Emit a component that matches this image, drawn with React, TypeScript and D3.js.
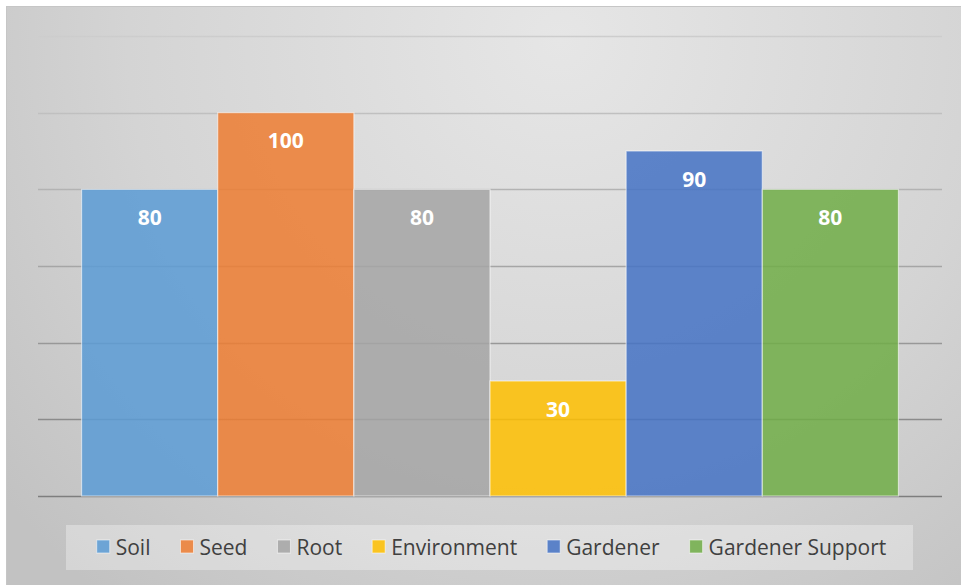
import * as d3 from 'd3';
import { useEffect, useRef } from 'react';

const categories = ['Soil', 'Seed', 'Root', 'Environment', 'Gardener', 'Gardener Support'];
const values = [80, 100, 80, 30, 90, 80];
const colors = ['#5b9bd5', '#ed7d31', '#a5a5a5', '#ffc000', '#4472c4', '#70ad47'];
const yTicks = [0, 20, 40, 60, 80, 100, 120];

const W = 961;
const H = 585;

export default function App() {
  const svgRef = useRef<SVGSVGElement | null>(null);

  useEffect(() => {
    const svg = d3.select(svgRef.current);
    svg.selectAll('*').remove();

    const font = '"Open Sans", "Noto Sans", sans-serif';
    const defs = svg.append('defs');

    const bg = defs
      .append('radialGradient')
      .attr('id', 'bg')
      .attr('gradientUnits', 'userSpaceOnUse')
      .attr('cx', 560)
      .attr('cy', 40)
      .attr('r', 720);
    bg.append('stop').attr('offset', '0%').attr('stop-color', '#e6e6e6');
    bg.append('stop').attr('offset', '60%').attr('stop-color', '#d4d4d4');
    bg.append('stop').attr('offset', '100%').attr('stop-color', '#c2c2c2');

    const x = d3
      .scaleBand<string>()
      .domain(categories)
      .range([38, 942])
      .paddingInner(0)
      .paddingOuter(0.32);

    const y = d3.scaleLinear().domain([0, 120]).range([496, 36]);

    const grid = defs
      .append('linearGradient')
      .attr('id', 'grid')
      .attr('gradientUnits', 'userSpaceOnUse')
      .attr('x1', 0)
      .attr('x2', 0)
      .attr('y1', y(120))
      .attr('y2', y(0));
    grid.append('stop').attr('offset', '0%').attr('stop-color', '#cdcdcd');
    grid.append('stop').attr('offset', '100%').attr('stop-color', '#7e7e7e');

    svg
      .append('rect')
      .attr('x', 6.5)
      .attr('y', 6.5)
      .attr('width', W)
      .attr('height', H)
      .attr('fill', 'url(#bg)')
      .attr('stroke', '#c6c6c6');

    svg
      .append('g')
      .selectAll('line')
      .data(yTicks)
      .enter()
      .append('line')
      .attr('x1', 38)
      .attr('x2', 942)
      .attr('y1', (d) => Math.round(y(d)) + 0.5)
      .attr('y2', (d) => Math.round(y(d)) + 0.5)
      .attr('stroke', 'url(#grid)')
      .attr('stroke-width', 1.5);

    const bars = svg
      .append('g')
      .selectAll('g')
      .data(categories)
      .enter()
      .append('g');

    bars
      .append('rect')
      .attr('x', (d) => x(d) ?? 0)
      .attr('y', (_, i) => y(values[i]))
      .attr('width', x.bandwidth())
      .attr('height', (_, i) => y(0) - y(values[i]))
      .attr('fill', (_, i) => colors[i])
      .attr('fill-opacity', 0.85)
      .attr('stroke', '#ffffff')
      .attr('stroke-opacity', 0.55)
      .attr('stroke-width', 1.2);

    bars
      .append('text')
      .attr('x', (d) => (x(d) ?? 0) + x.bandwidth() / 2)
      .attr('y', (_, i) => y(values[i]) + 35.5)
      .attr('text-anchor', 'middle')
      .attr('fill', '#ffffff')
      .attr('font-family', font)
      .attr('font-weight', 700)
      .attr('font-size', 21)
      .text((_, i) => values[i]);

    // legend
    svg
      .append('rect')
      .attr('x', 66)
      .attr('y', 525)
      .attr('width', 847)
      .attr('height', 45)
      .attr('fill', '#ffffff')
      .attr('fill-opacity', 0.32);

    const legend = svg.append('g');
    const items = legend
      .selectAll('g')
      .data(categories)
      .enter()
      .append('g');

    items
      .append('rect')
      .attr('width', 13)
      .attr('height', 13)
      .attr('y', 540)
      .attr('fill', (_, i) => colors[i])
      .attr('fill-opacity', 0.85)
      .attr('stroke', '#ffffff')
      .attr('stroke-opacity', 0.55);

    const labels = items
      .append('text')
      .attr('x', 19)
      .attr('y', 554.5)
      .attr('fill', '#404040')
      .attr('font-family', font)
      .attr('font-size', 21)
      .text((d) => d);

    const widths = labels.nodes().map((n) => (n as SVGTextElement).getComputedTextLength());
    const gap = 30;
    const total = d3.sum(widths.map((w) => 19 + w)) + gap * (widths.length - 1);
    let cx = 491.5 - total / 2;
    items.each(function (_, i) {
      d3.select(this).attr('transform', `translate(${cx},0)`);
      cx += 19 + widths[i] + gap;
    });
  }, []);

  return (
    <svg
      ref={svgRef}
      width={W}
      height={H}
      style={{ position: 'absolute', left: 0, top: 0, display: 'block', background: '#fff' }}
    />
  );
}
